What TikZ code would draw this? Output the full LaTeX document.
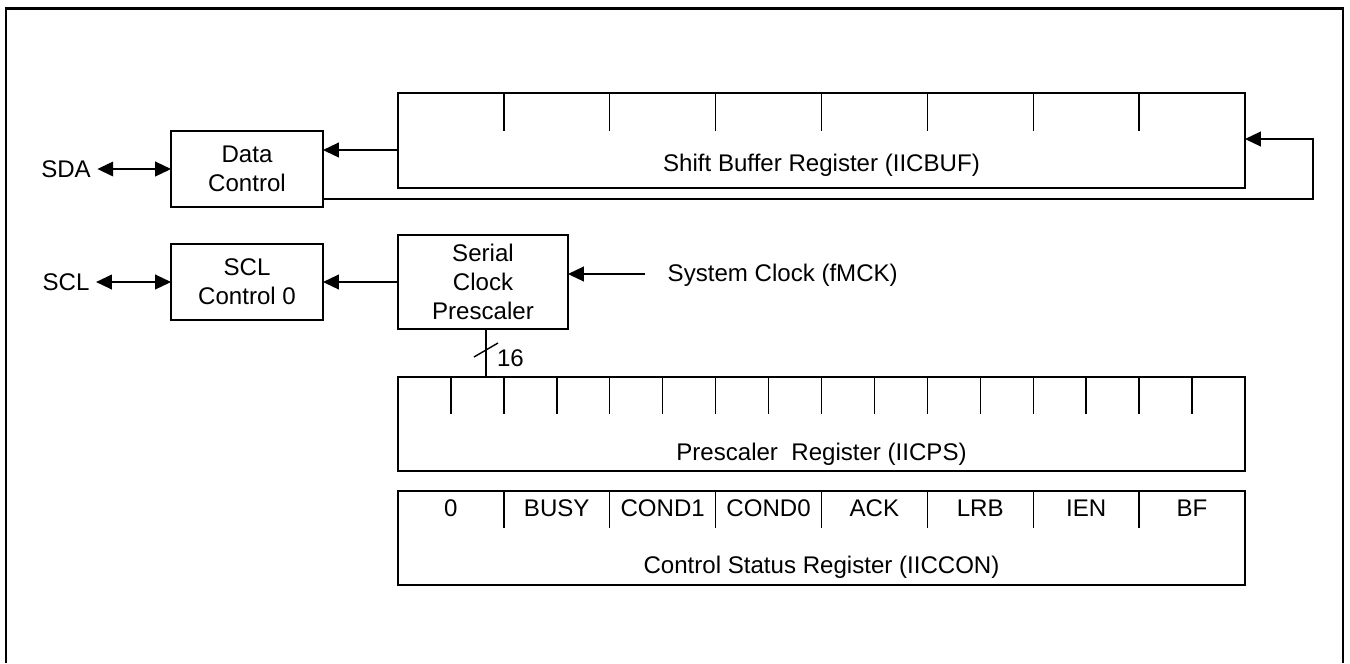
\documentclass[tikz,border=0pt]{standalone}
\usepackage{fontspec}
\setmainfont{Liberation Sans}
\usetikzlibrary{arrows.meta,positioning,calc}
\newcommand\regfont{\fontsize{6.85}{8.33}\selectfont}
\tikzset{
  box/.style={draw,inner sep=0pt,outer sep=0pt,align=center,font=\regfont},
  reg/.style={draw,inner sep=0pt,outer sep=0pt,minimum width=8.47cm,minimum height=.94cm},
  lbl/.style={inner sep=1.7pt,font=\regfont},
  sig/.style={-{Triangle[length=4.5pt,width=4.2pt]}},
  bidir/.style={{Triangle[length=4.5pt,width=4.2pt]}-{Triangle[length=4.5pt,width=4.2pt]}},
  frame/.style={line width=.6pt}
}

\begin{document}
\begin{tikzpicture}[line width=.4pt]
\useasboundingbox (0,0) rectangle (13.5,-6.63);
\draw[frame] (0.06,-6.63) -- (0.06,-0.085) -- (13.43,-0.085) -- (13.43,-6.63);

\node[box,minimum width=1.52cm,minimum height=.76cm] (dc) at (2.47,-1.69) {Data\\Control};
\node[box,minimum width=1.52cm,minimum height=.76cm] (sclc) at (2.47,-2.82) {SCL\\Control 0};
\node[box,minimum width=1.70cm,minimum height=.94cm] (scp) at (4.83,-2.82) {Serial\\Clock\\Prescaler};
\node[lbl] (sda) at (0.66,-1.69) {SDA};
\node[lbl] (scl) at (0.66,-2.82) {SCL};

\node[reg,minimum height=.95cm] (sbr) at (8.215,-1.405) {};
\node[reg] (psr) at (8.215,-4.24) {};
\node[reg] (csr) at (8.215,-5.38) {};
\foreach \i in {1,...,7}{\draw ($(sbr.north west)+(\i*1.05875,0)$) -- ++(0,-.38);}
\foreach \i in {1,...,15}{\draw ($(psr.north west)+(\i*.529375,0)$) -- ++(0,-.37);}
\foreach \i in {1,...,7}{\draw ($(csr.north west)+(\i*1.05875,0)$) -- ++(0,-.37);}
\foreach \i/\bit in {0/0,1/BUSY,2/COND1,3/COND0,4/ACK,5/LRB,6/IEN,7/BF}{
  \node[lbl,inner sep=0pt,anchor=base] (c\i) at ($(csr.north west)+(\i*1.05875+.529,-.257)$) {\bit};
}
\node[lbl,inner sep=0pt,anchor=base] (sbrname) at ([yshift=.17cm]sbr.south) {Shift Buffer Register (IICBUF)};
\node[lbl,inner sep=0pt,anchor=base] (psrname) at ([yshift=.11cm]psr.south) {Prescaler\ \ Register (IICPS)};
\node[lbl,inner sep=0pt,anchor=base] (csrname) at ([yshift=.12cm]csr.south) {Control Status Register (IICCON)};

\draw[bidir] (sda) -- (dc);
\draw[bidir] (scl) -- (sclc);
\coordinate (dcin) at ($(dc.north east)!.25!(dc.south east)$);
\coordinate (dcout) at ($(dc.north east)!.895!(dc.south east)$);
\coordinate (loop) at (13.13,-1.39);
\draw[sig] (sbr.west |- dcin) -- (dcin);
\draw[sig] (dcout) -| (loop) -- (sbr.east |- loop);
\draw[sig] (scp) -- (sclc);

\node[lbl,inner sep=0pt,anchor=base west] (sys) at (6.67,-2.817) {System Clock (fMCK)};
\coordinate (clk) at (6.45,-2.74);
\draw[sig] (clk) -- (scp.east |- clk);

\coordinate (busx) at (4.86,-3.50);
\draw (scp.south -| busx) -- (psr.north -| busx);
\draw ($(busx)+(-.12,-.07)$) -- ($(busx)+(.12,.07)$);
\node[lbl,inner sep=0pt,anchor=base] (width) at (5.105,-3.667) {16};
\end{tikzpicture}
\end{document}
